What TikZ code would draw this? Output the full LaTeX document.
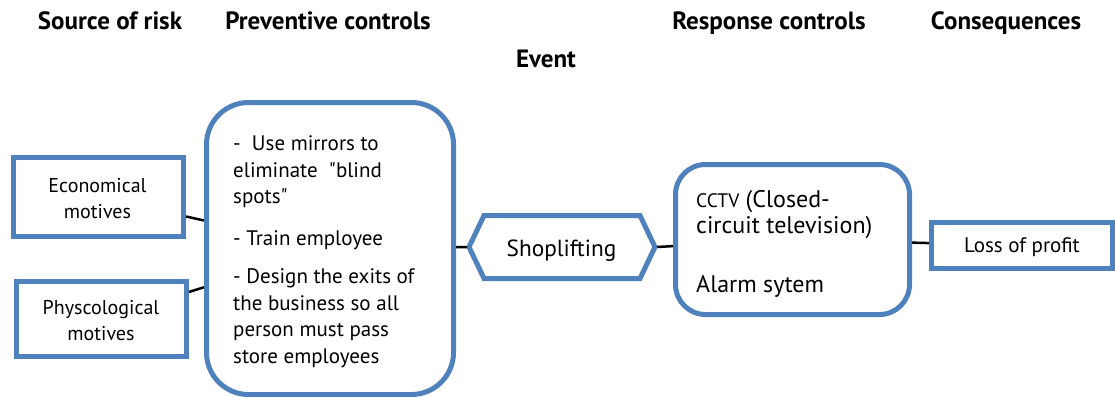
\documentclass[tikz,border=0pt]{standalone}
\usepackage{fontspec}
\setmainfont{PT Sans}[Ligatures=TeXOff]
\definecolor{blu}{HTML}{4F81BD}
\begin{document}
\begin{tikzpicture}[x=1pt,y=-1pt,
  box/.style={draw=blu, line width=5pt, fill=white, inner sep=0pt},
  rbox/.style={box, rounded corners=#1},
  conn/.style={draw=black, line width=2.5pt},
  head/.style={font=\fontsize{25}{30}\selectfont\bfseries, inner sep=0pt, anchor=base},
  body/.style={font=\fontsize{20}{25.5}\selectfont, align=center, inner sep=0pt, anchor=base}
]
\useasboundingbox (0,0) rectangle (1115,396);

% headers
\node[head] (h1) at (110,30) {Source of risk};
\node[head] (h2) at (328,30) {Preventive controls};
\node[head] (h3) at (769,30) {Response controls};
\node[head] (h4) at (1006,30) {Consequences};
\node[head] (h5) at (546,67) {Event};

% boxes
\node[box, minimum width=170pt, minimum height=79pt] (eco) at (98.5,197) {};
\node[box, minimum width=170pt, minimum height=75pt] (phy) at (101.5,319) {};
\node[rbox=42pt, minimum width=247pt, minimum height=292pt] (prev) at (330,248.5) {};
\node[rbox=30pt, minimum width=234pt, minimum height=150pt] (resp) at (792.5,239.5) {};
\node[box, minimum width=181pt, minimum height=46pt] (loss) at (1022,245.5) {};

% hexagon
\node[minimum width=186pt, minimum height=63pt, inner sep=0pt, outer sep=0pt] (shop) at (562,247) {};
\draw[blu, line width=5pt, line join=miter, fill=white]
  (shop.west) -- ([xshift=15pt]shop.north west) -- ([xshift=-15pt]shop.north east)
  -- (shop.east) -- ([xshift=-15pt]shop.south east) -- ([xshift=15pt]shop.south west) -- cycle;

% connectors
\draw[conn] (eco) -- (prev);
\draw[conn] (phy) -- (prev);
\draw[conn] (prev) -- ([xshift=-2pt]shop.west);
\draw[conn] ([xshift=2pt]shop.east) -- (resp);
\draw[conn] (resp) -- (loss);

% texts
\node[body] (ecot) at (97.5,218) {Economical\\motives};
\node[body] (phyt) at (101,340) {Physcological\\motives};
\node[font=\fontsize{21}{26.5}\selectfont, align=left, inner sep=0pt, anchor=base west] (prevt) at (233,363)
  {-\ \ Use mirrors to\\eliminate \ "blind\\spots"\\[15.5pt]- Train employee\\[11.5pt]- Design the exits of\\the business so all\\person must pass\\store employees};
\node[font=\fontsize{23.3}{28}\selectfont, inner sep=0pt, anchor=base] (shopt) at (561.5,256) {Shoplifting};
\node[font=\fontsize{24}{26}\selectfont, align=left, inner sep=0pt, anchor=base west] (respt) at (696,292)
  {{\fontsize{19.5}{26}\selectfont CCTV} (Closed-\\circuit television)\\[33pt]Alarm sytem};
\node[font=\fontsize{21}{24}\selectfont, inner sep=0pt, anchor=base] (losst) at (1022,252) {Loss of profit};
\end{tikzpicture}
\end{document}
